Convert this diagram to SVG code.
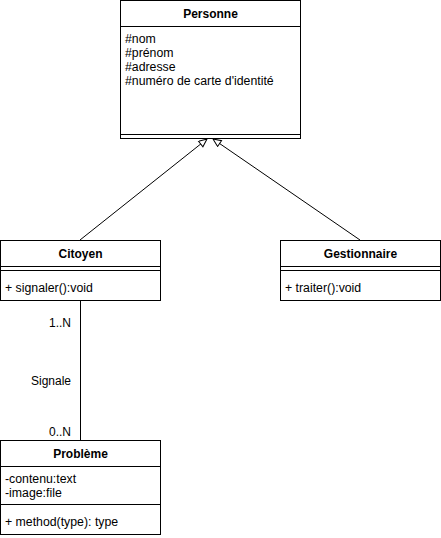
<svg xmlns="http://www.w3.org/2000/svg" width="441" height="538" viewBox="0 0 441 538">
<style>
.box{fill:#fff;stroke:#000;stroke-width:1}
.ln{stroke:#000;stroke-width:1;fill:none}
text{font-family:"Liberation Sans",Arial,sans-serif;font-size:12px;fill:#000}
.t{font-weight:bold;text-anchor:middle}
.a{font-size:12.3px}
.r{text-anchor:end}
</style>
<defs>
<marker id="inh" markerUnits="userSpaceOnUse" markerWidth="12" markerHeight="10" refX="9" refY="4" orient="auto" viewBox="0 0 12 10">
<path d="M1,0.5 L9,4 L1,7.5 Z" fill="#fff" stroke="#000" stroke-width="1"/>
</marker>
</defs>
<rect width="441" height="538" fill="#fff"/>
<g id="connectors">
<line class="ln" x1="80" y1="240" x2="207" y2="139" marker-end="url(#inh)"/>
<line class="ln" x1="360" y1="240" x2="213" y2="139" marker-end="url(#inh)"/>
<line class="ln" x1="80.5" y1="300" x2="80.5" y2="440"/>
<text class="r" x="71" y="327">1..N</text>
<text class="r" x="71" y="385">Signale</text>
<text class="r" x="71" y="436">0..N</text>
</g>
<g id="personne">
<rect class="box" x="120.5" y="0.5" width="180" height="138"/>
<line class="ln" x1="120.5" y1="26.5" x2="300.5" y2="26.5"/>
<line class="ln" x1="120.5" y1="134.5" x2="300.5" y2="134.5"/>
<text class="t" x="210.5" y="18">Personne</text>
<text class="a" x="125" y="43">#nom</text>
<text class="a" x="125" y="57">#prénom</text>
<text class="a" x="125" y="71">#adresse</text>
<text class="a" x="125" y="85">#numéro de carte d'identité</text>
</g>
<g id="citoyen">
<rect class="box" x="0.5" y="240.5" width="160" height="60"/>
<line class="ln" x1="0.5" y1="266.5" x2="160.5" y2="266.5"/>
<line class="ln" x1="0.5" y1="270.5" x2="160.5" y2="270.5"/>
<text class="t" x="80.5" y="258">Citoyen</text>
<text class="a" x="5" y="292">+ signaler():void</text>
</g>
<g id="gestionnaire">
<rect class="box" x="280.5" y="240.5" width="160" height="60"/>
<line class="ln" x1="280.5" y1="266.5" x2="440.5" y2="266.5"/>
<line class="ln" x1="280.5" y1="270.5" x2="440.5" y2="270.5"/>
<text class="t" x="360.5" y="258">Gestionnaire</text>
<text class="a" x="285" y="292">+ traiter():void</text>
</g>
<g id="probleme">
<rect class="box" x="0.5" y="440.5" width="160" height="94"/>
<line class="ln" x1="0.5" y1="466.5" x2="160.5" y2="466.5"/>
<line class="ln" x1="0.5" y1="504.5" x2="160.5" y2="504.5"/>
<text class="t" x="80.5" y="458">Problème</text>
<text class="a" x="5" y="483">-contenu:text</text>
<text class="a" x="5" y="497">-image:file</text>
<text class="a" x="5" y="526">+ method(type): type</text>
</g>
</svg>
